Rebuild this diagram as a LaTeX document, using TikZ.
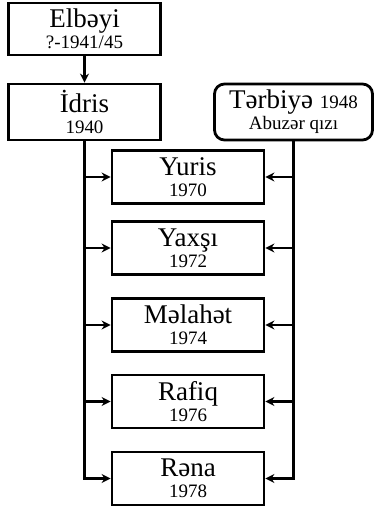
\documentclass[tikz,border=0pt]{standalone}
\usepackage{fontspec}
\setmainfont{Liberation Serif}
\usetikzlibrary{arrows.meta}
\newcommand{\jahr}[1]{{\fontsize{19}{21}\selectfont #1}}
\begin{document}
\begin{tikzpicture}[x=1pt,y=-1pt,
		kasten/.style={draw,line width=2.8pt,align=center,inner sep=0pt,minimum width=152pt,minimum height=53pt,font=\fontsize{27}{21}\selectfont},
		pfeil/.style={line width=2.8pt,-{Stealth[length=9pt,width=9pt]}}]
	\useasboundingbox (0,0) rectangle (374,507);
	% Eltern
	\node[kasten,minimum height=52pt] (elbeyi) at (84.5,29) {Elbəyi\\\jahr{?-1941/45}};
	\node[kasten,minimum height=56pt] (idris) at (84.5,112) {İdris\\\jahr{1940}};
	\node[kasten,minimum width=158pt,minimum height=56pt,rounded corners=10pt] (terbiye) at (293.5,112) {Tərbiyə \jahr{1948}\\\jahr{Abuzər qızı}};
	% Kinder
	\node[kasten] (yuris) at (188,177) {Yuris\\\jahr{1970}};
	\node[kasten] (yaxsi) at (188,248) {Yaxşı\\\jahr{1972}};
	\node[kasten] (melahet) at (188,325) {Məlahət\\\jahr{1974}};
	\node[kasten] (rafiq) at (188,401.5) {Rafiq\\\jahr{1976}};
	\node[kasten] (rena) at (188,478.5) {Rəna\\\jahr{1978}};
	\draw[pfeil] (elbeyi.south) -- (idris.north);
	% linke Seite
	\draw[pfeil] (idris.south) |- (rena.west);
	\foreach \k in {yuris,yaxsi,melahet,rafiq}
		\draw[pfeil] (idris.south |- \k.west) -- (\k.west);
	% rechte Seite
	\draw[pfeil] (terbiye.south) |- (rena.east);
	\foreach \k in {yuris,yaxsi,melahet,rafiq}
		\draw[pfeil] (terbiye.south |- \k.east) -- (\k.east);
\end{tikzpicture}
\end{document}
